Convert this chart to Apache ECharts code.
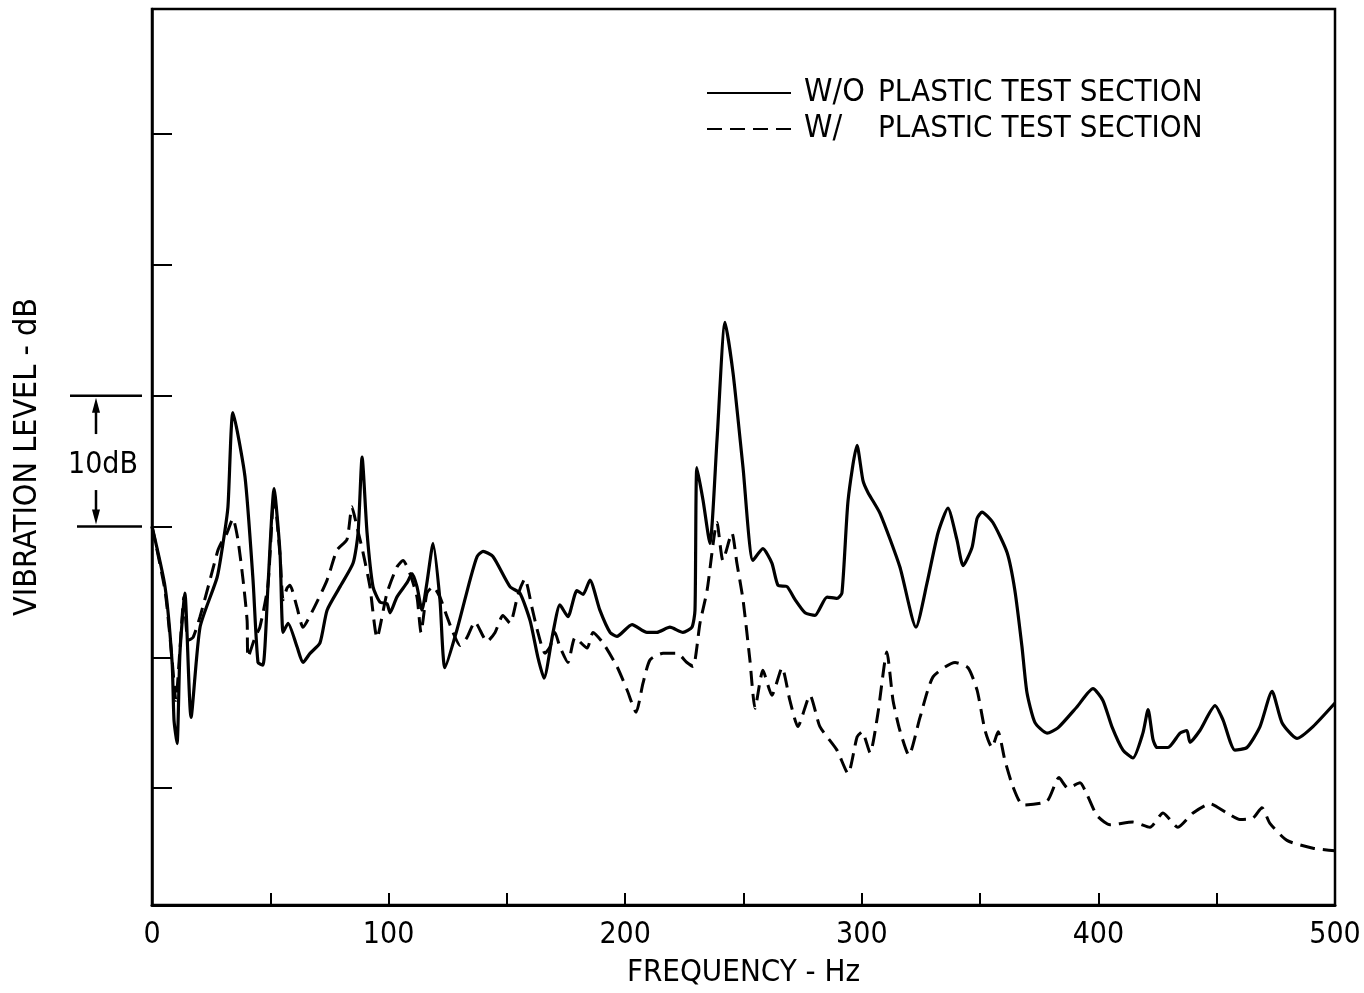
<!DOCTYPE html>
<html>
<head>
<meta charset="utf-8">
<script src="https://cdn.jsdelivr.net/npm/echarts@6/dist/echarts.min.js"></script>
<style>
  html, body { margin: 0; padding: 0; background: #fff; }
  #chart { width: 1364px; height: 993px; }
</style>
</head>
<body>
<div id="chart"></div>
<script>
// frequency (Hz) / level (dB)
const freqA = [0, 5.5, 8.5, 9.3, 10.6, 11.8, 13.9, 16.5, 20.3, 27.5, 30.0, 32.1, 34.2, 39.3, 42.7, 44.8, 46.9, 49.0, 51.6, 54.1, 55.4, 57.5, 61.3, 63.8, 66.8, 71.0, 74.0, 79.5, 85.0, 87.1, 88.8, 90.9, 93.4, 96.4, 99.3, 100.6, 103.5, 107.8, 109.9, 112.0, 114.1, 116.2, 118.8, 121.7, 123.8, 128.9, 134.4, 137.4, 139.9, 144.1, 151.3, 155.5, 159.8, 163.1, 165.7, 169.5, 172.4, 175.8, 179.6, 182.2, 185.1, 189.3, 193.6, 196.5, 202.9, 209.2, 213.4, 218.9, 224.4, 228.2, 229.5, 230.3, 232.9, 235.8, 238.8, 242.2, 245.6, 249.8, 254.0, 258.2, 262.0, 264.6, 268.4, 271.8, 276.0, 280.2, 285.3, 289.5, 291.6, 294.2, 298.0, 300.5, 302.6, 307.7, 316.1, 322.9, 327.6, 332.2, 336.4, 340.2, 342.8, 346.6, 348.7, 350.8, 355.4, 361.4, 364.7, 367.7, 369.8, 373.2, 378.3, 382.9, 390.9, 397.7, 401.9, 405.7, 410.4, 414.6, 418.8, 421.0, 423.1, 424.8, 429.4, 434.5, 437.4, 438.7, 442.9, 449.3, 452.7, 457.7, 462.8, 468.3, 473.4, 477.6, 483.9, 490.7, 500];
const dbA = [30.0, 25.4, 19.6, 15.2, 13.4, 20.3, 24.9, 15.4, 22.3, 26.1, 28.7, 31.5, 38.7, 33.8, 25.9, 19.6, 19.4, 25.4, 32.9, 28.0, 21.9, 22.6, 20.8, 19.6, 20.3, 21.1, 23.6, 25.4, 27.2, 29.5, 35.3, 29.5, 25.4, 24.2, 24.1, 23.4, 24.6, 25.7, 26.4, 25.4, 23.6, 25.7, 28.7, 24.4, 19.2, 22.1, 25.9, 27.7, 28.1, 27.7, 25.4, 24.9, 22.8, 20.0, 18.4, 21.9, 24.0, 23.1, 25.1, 24.8, 25.9, 23.6, 21.9, 21.6, 22.5, 21.9, 21.9, 22.3, 21.9, 22.3, 23.6, 34.5, 32.0, 28.7, 36.6, 45.6, 41.7, 34.5, 27.4, 28.3, 27.2, 25.5, 25.4, 24.4, 23.4, 23.2, 24.6, 24.5, 24.9, 32.0, 36.2, 33.5, 32.6, 31.0, 26.9, 22.3, 25.7, 29.5, 31.4, 29.0, 27.0, 28.4, 30.6, 31.1, 30.3, 28.0, 25.1, 20.8, 17.3, 15.0, 14.2, 14.6, 16.2, 17.6, 16.7, 14.7, 12.9, 12.3, 14.2, 16.0, 13.7, 13.1, 13.1, 14.2, 14.4, 13.5, 14.4, 16.3, 15.2, 12.9, 13.1, 14.7, 17.4, 15.0, 13.8, 14.7, 16.5];

const freqB = [0, 5.5, 8.5, 10.1, 11.8, 13.5, 15.2, 17.3, 20.3, 24.5, 27.9, 30.0, 31.7, 34.2, 36.3, 38.5, 40.2, 40.6, 43.5, 45.6, 49.0, 51.6, 54.1, 55.4, 57.1, 58.3, 61.3, 63.8, 68.0, 74.0, 78.2, 82.4, 84.5, 86.6, 89.2, 92.1, 95.1, 99.3, 103.5, 106.1, 109.0, 112.0, 113.7, 116.2, 118.8, 121.7, 124.7, 127.2, 130.2, 133.1, 136.5, 141.6, 145.0, 148.3, 151.3, 154.7, 157.6, 160.6, 163.1, 166.1, 168.2, 170.3, 172.4, 175.8, 178.8, 183.9, 186.4, 190.6, 196.5, 200.8, 204.6, 207.5, 210.5, 216.0, 221.9, 226.1, 228.7, 231.6, 234.6, 238.8, 241.3, 245.1, 247.2, 249.8, 252.7, 254.9, 258.2, 262.0, 266.3, 269.6, 273.0, 278.1, 282.3, 289.5, 294.2, 298.0, 300.1, 303.5, 306.8, 310.6, 313.2, 316.1, 319.9, 324.6, 330.1, 339.4, 344.9, 348.7, 352.1, 355.0, 357.6, 360.5, 363.9, 368.1, 378.3, 383.3, 387.1, 392.2, 395.2, 399.4, 404.9, 414.6, 421.8, 427.3, 433.6, 440.0, 447.2, 454.3, 459.8, 465.3, 469.1, 472.5, 479.7, 490.7, 500];
const dbB = [30.0, 25.1, 19.8, 16.7, 20.6, 24.6, 21.3, 21.5, 23.1, 25.9, 28.2, 29.0, 29.5, 30.6, 29.0, 25.9, 22.8, 20.0, 21.5, 22.3, 25.5, 32.4, 27.8, 24.4, 25.3, 25.5, 23.8, 22.3, 23.6, 25.9, 28.2, 29.0, 31.5, 30.0, 28.0, 25.4, 21.5, 24.9, 26.9, 27.4, 26.4, 24.6, 21.9, 24.9, 25.4, 24.6, 23.1, 21.9, 20.9, 21.5, 22.7, 21.2, 21.9, 23.2, 22.6, 24.8, 26.0, 23.8, 21.9, 20.3, 20.8, 21.9, 20.8, 19.6, 21.5, 20.7, 21.9, 21.1, 19.3, 17.5, 15.8, 18.0, 19.8, 20.3, 20.3, 19.6, 19.3, 22.6, 25.1, 30.3, 27.4, 29.5, 27.2, 24.4, 19.8, 16.1, 19.0, 17.1, 19.2, 16.7, 14.7, 17.1, 14.7, 12.9, 11.1, 13.9, 14.3, 12.7, 15.7, 20.4, 16.7, 14.4, 12.5, 15.4, 18.5, 19.6, 19.2, 17.5, 14.4, 13.1, 14.3, 12.1, 10.1, 8.7, 9.0, 10.8, 10.0, 10.4, 9.5, 7.9, 7.2, 7.4, 7.0, 8.1, 7.0, 8.1, 8.8, 8.1, 7.6, 7.7, 8.5, 7.3, 6.0, 5.4, 5.2];

const seriesNames = ['W/O PLASTIC TEST SECTION', 'W/ PLASTIC TEST SECTION'];
const yTicks = [10, 20, 30, 40, 50, 60];
const xLabels = [0, 100, 200, 300, 400, 500];
const Y_MIN = 1.06, Y_MAX = 69.56;

const FONT = "'DejaVu Sans Condensed', 'Liberation Sans Narrow', 'Open Sans', sans-serif";

const chart = echarts.init(document.getElementById('chart'));

const option = {
  animation: false,
  backgroundColor: '#fff',
  grid: { left: 152, right: 29, top: 9, bottom: 88, show: true, borderColor: '#000', borderWidth: 2.5 },
  legend: {
    orient: 'vertical',
    left: 701,
    top: 72,
    itemWidth: 84,
    itemHeight: 2,
    itemGap: 4,
    itemStyle: { color: 'rgba(0,0,0,0)', borderWidth: 0, opacity: 0 },
    formatter: name => {
      const i = name.indexOf(' ');
      return '{a|' + name.slice(0, i) + '}{b|' + name.slice(i + 1) + '}';
    },
    textStyle: {
      color: '#000',
      rich: {
        a: { fontFamily: FONT, fontSize: 32, color: '#000', width: 74, padding: [0, 0, 0, 8] },
        b: { fontFamily: FONT, fontSize: 31, color: '#000' }
      }
    }
  },
  xAxis: {
    type: 'value',
    min: 0,
    max: 500,
    interval: 50,
    axisLine: { lineStyle: { color: '#000', width: 3 } },
    axisTick: { inside: true, length: 12, lineStyle: { color: '#000', width: 2 } },
    splitLine: { show: false },
    axisLabel: {
      color: '#000', fontFamily: FONT, fontSize: 30, margin: 15,
      formatter: v => xLabels.indexOf(v) >= 0 ? String(v) : ''
    },
    name: 'FREQUENCY - Hz',
    nameLocation: 'middle',
    nameGap: 52,
    nameTextStyle: { color: '#000', fontFamily: FONT, fontSize: 31 }
  },
  yAxis: {
    type: 'value',
    min: Y_MIN,
    max: Y_MAX,
    axisLine: { show: true, lineStyle: { color: '#000', width: 2.5 } },
    axisTick: { show: true, inside: true, length: 20, customValues: yTicks, lineStyle: { color: '#000', width: 2 } },
    axisLabel: { show: false },
    splitLine: { show: false },
    name: 'VIBRATION LEVEL - dB',
    nameLocation: 'middle',
    nameGap: 108,
    nameTextStyle: { color: '#000', fontFamily: FONT, fontSize: 32 }
  },
  series: [
    {
      name: seriesNames[0],
      type: 'line',
      symbol: 'none',
      smooth: 0.2,
      lineStyle: { color: '#000', width: 3.2 },
      itemStyle: { color: '#000' },
      data: freqA.map((f, i) => [f, dbA[i]])
    },
    {
      name: seriesNames[1],
      type: 'line',
      symbol: 'none',
      smooth: 0.2,
      lineStyle: { color: '#000', width: 3, type: [15, 8] },
      itemStyle: { color: '#000' },
      data: freqB.map((f, i) => [f, dbB[i]])
    }
  ]
};

chart.setOption(option);

// 10 dB scale marker on the left, tied to the y axis
const yTop = chart.convertToPixel({ yAxisIndex: 0 }, 40);
const yBot = chart.convertToPixel({ yAxisIndex: 0 }, 30);
const ax = 96;
const mid = (yTop + yBot) / 2;
const stroke = { stroke: '#000', lineWidth: 2.5 };
chart.setOption({
  graphic: [
    { type: 'line', shape: { x1: 70, y1: yTop, x2: 142, y2: yTop }, style: stroke },
    { type: 'line', shape: { x1: 77, y1: yBot, x2: 142, y2: yBot }, style: stroke },
    { type: 'line', shape: { x1: ax, y1: yTop + 12, x2: ax, y2: mid - 27 }, style: stroke },
    { type: 'polygon', shape: { points: [[ax, yTop + 2], [ax - 4, yTop + 17], [ax + 4, yTop + 17]] }, style: { fill: '#000' } },
    { type: 'line', shape: { x1: ax, y1: mid + 29, x2: ax, y2: yBot - 12 }, style: stroke },
    { type: 'polygon', shape: { points: [[ax, yBot - 2], [ax - 4, yBot - 17], [ax + 4, yBot - 17]] }, style: { fill: '#000' } },
    {
      type: 'text', x: 103, y: mid + 4,
      style: { text: '10dB', fill: '#000', font: '30px ' + FONT, align: 'center', verticalAlign: 'middle' }
    }
  ]
});
</script>
</body>
</html>
